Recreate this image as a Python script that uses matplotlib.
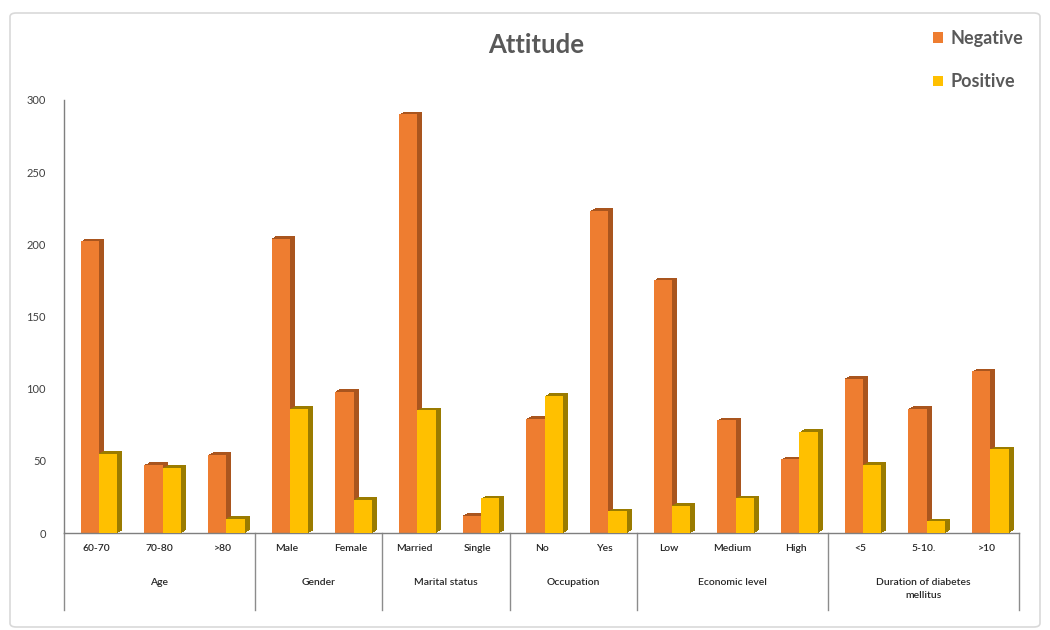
import matplotlib
matplotlib.use("Agg")
import matplotlib.pyplot as plt
import matplotlib.patheffects as pe
from matplotlib.patches import FancyBboxPatch, Patch
import numpy as np

plt.rcParams['font.family'] = ['Lato', 'DejaVu Sans']

categories = ["60-70", "70-80", ">80", "Male", "Female", "Married", "Single",
              "No", "Yes", "Low", "Medium", "High", "<5", "5-10.", ">10"]
groups = ["Age", "Gender", "Marital status", "Occupation", "Economic level",
          "Duration of diabetes\nmellitus"]
group_sizes = [3, 2, 2, 2, 3, 3]
negative = [202, 47, 54, 204, 98, 290, 12, 79, 223, 175, 78, 51, 107, 86, 112]
positive = [55, 45, 10, 86, 23, 85, 24, 95, 15, 19, 24, 70, 47, 8, 58]
yticks = [0, 50, 100, 150, 200, 250, 300]

neg_col, neg_side = "#EE7D30", "#A9551E"
pos_col, pos_side = "#FFC000", "#9A7B00"
txt_col = "#404040"

fig = plt.figure(figsize=(10.5, 6.3), dpi=100)
frame = FancyBboxPatch((10 / 1050, 3 / 630), 1030 / 1050, 614 / 630,
                       boxstyle="round,pad=0,rounding_size=0.006",
                       transform=fig.transFigure, facecolor="none",
                       edgecolor="#D9D9D9", linewidth=1.2, zorder=-1)
fig.patches.append(frame)

ax = fig.add_axes([64 / 1050, 97 / 630, (1019 - 64) / 1050, 433 / 630])
ax.set_facecolor("none")

def extrude(color):
    effs = []
    for k in np.linspace(0.3, 3.6, 12):
        effs.append(pe.SimplePatchShadow(offset=(k, k * 0.55),
                                         shadow_rgbFace=color, alpha=1.0))
    effs.append(pe.Normal())
    return effs

x = np.arange(len(categories))
w = 0.29
ax.bar(x - w / 2 + 0.05, negative, w, color=neg_col, zorder=2,
       path_effects=extrude(neg_side), label="Negative")
ax.bar(x + w / 2 + 0.05, positive, w, color=pos_col, zorder=3,
       path_effects=extrude(pos_side), label="Positive")

ax.set_xlim(-0.5, len(categories) - 0.5)
ax.set_ylim(0, 300)
ax.set_yticks(yticks)
ax.set_yticklabels([str(v) for v in yticks], fontsize=8, color=txt_col)
ax.tick_params(axis="y", length=0, pad=13)
ax.set_xticks(x)
ax.set_xticklabels(categories, fontsize=7.5, color="#262626",
                   fontweight="semibold")
ax.tick_params(axis="x", length=0, pad=8)
for s in ["top", "right"]:
    ax.spines[s].set_visible(False)
for s in ["left", "bottom"]:
    ax.spines[s].set_color("#7F7F7F")
    ax.spines[s].set_linewidth(1.0)

# group separators and group labels
trans = ax.get_xaxis_transform()
bounds = np.concatenate([[0], np.cumsum(group_sizes)]) - 0.5
for b in bounds:
    ax.plot([b, b], [0, -0.178], transform=trans, color="#8C8C8C",
            linewidth=1.0, clip_on=False)
for i, g in enumerate(groups):
    c = (bounds[i] + bounds[i + 1]) / 2
    ax.text(c, -0.105, g, transform=trans, ha="center", va="top",
            fontsize=7.5, color="#262626", linespacing=1.5,
            fontweight="semibold")

fig.text(536 / 1050, 1 - 45 / 630, "Attitude", ha="center", va="center",
         fontsize=18.5, fontweight="bold", color="#595959")

handles = [Patch(facecolor=neg_col), Patch(facecolor=pos_col)]
leg = fig.legend(handles, ["Negative", "Positive"], loc="upper left",
                 bbox_to_anchor=(917 / 1050, 1 - 14 / 630), frameon=False,
                 handlelength=0.55, handleheight=0.55, handletextpad=0.4,
                 labelspacing=1.45, prop={"size": 13, "weight": "bold"})
for t in leg.get_texts():
    t.set_color("#595959")

fig.savefig("out.png", dpi=100)
